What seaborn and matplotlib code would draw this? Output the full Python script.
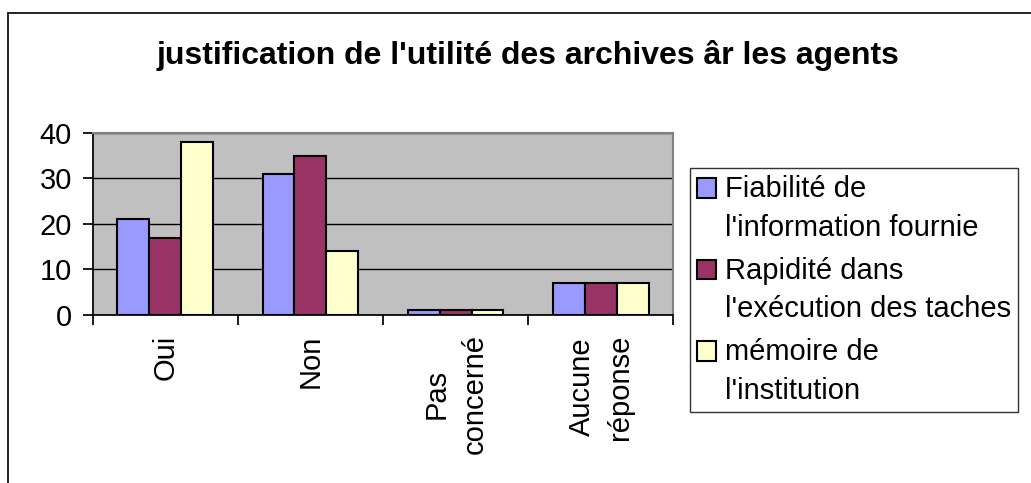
import pandas as pd
import seaborn as sns
import matplotlib.pyplot as plt
from matplotlib.lines import Line2D
from matplotlib.patches import Rectangle
from matplotlib.legend_handler import HandlerBase

categories = ["Oui", "Non", "Pas\nconcerné", "Aucune\nréponse"]
series = ["Fiabilité de\nl'information fournie",
          "Rapidité dans\nl'exécution des taches",
          "mémoire de\nl'institution"]
fiabilite = [21, 31, 1, 7]
rapidite = [17, 35, 1, 7]
memoire = [38, 14, 1, 7]
colors = ["#9999FF", "#993366", "#FFFFCC"]

df = pd.DataFrame({
    "cat": categories * 3,
    "serie": [series[0]] * 4 + [series[1]] * 4 + [series[2]] * 4,
    "val": fiabilite + rapidite + memoire,
})


# square legend key aligned with the first line of a two-line label
class TopSquare(HandlerBase):
    def create_artists(self, legend, orig_handle, xdescent, ydescent,
                       width, height, fontsize, trans):
        r = Rectangle((-xdescent, -ydescent + 15.5), width, height,
                      facecolor=orig_handle.get_facecolor(),
                      edgecolor="black", linewidth=1.5, transform=trans)
        return [r]


sns.set_theme(style="white")
plt.rcParams["font.family"] = ["Liberation Sans", "DejaVu Sans"]
plt.rcParams["text.color"] = "black"
plt.rcParams["xtick.color"] = "black"
plt.rcParams["ytick.color"] = "black"

fig = plt.figure(figsize=(10.31, 4.83), dpi=100)
ax = fig.add_axes([0.090, 0.348, 0.563, 0.377])
ax.set_facecolor("#C0C0C0")

sns.barplot(data=df, x="cat", y="val", hue="serie", palette=colors, saturation=1,
            width=0.66, edgecolor="black", linewidth=1.5, ax=ax, zorder=3)

ax.set_ylim(0, 40)
ax.set_xlim(-0.5, 3.5)
ax.set_yticks([0, 10, 20, 30, 40])
ax.grid(axis="y", color="black", linewidth=1, zorder=1)
ax.set_axisbelow(True)
for s in ["top", "right"]:
    ax.spines[s].set_color("#808080")
    ax.spines[s].set_linewidth(1.5)
ax.spines["left"].set_color("black")
ax.spines["bottom"].set_color("black")
ax.set_xlabel("")
ax.set_ylabel("")
ax.tick_params(axis="y", labelsize=21, length=7, direction="out", left=True,
               color="black", labelcolor="black", pad=8)
ax.set_xticks([-0.5, 0.5, 1.5, 2.5, 3.5], minor=False)
ax.set_xticklabels([])
ax.set_xticks([0, 1, 2, 3], minor=True)
ax.set_xticklabels(categories, minor=True, rotation=90, fontsize=21,
                   va="top", ha="center", multialignment="center",
                   linespacing=1.45, color="black")
ax.tick_params(axis="x", which="major", length=7, bottom=True, color="black")
ax.tick_params(axis="x", which="minor", length=0, pad=14)

ax.get_legend().remove()
handles = [Rectangle((0, 0), 1, 1, facecolor=c, edgecolor="black") for c in colors]
leg = fig.legend(handles, series, loc="upper left", bbox_to_anchor=(0.669, 0.652),
                 fontsize=21, frameon=True, fancybox=False, edgecolor="black",
                 handlelength=0.65, handleheight=0.65, handletextpad=0.3,
                 labelspacing=0.52, borderpad=0.25, borderaxespad=0,
                 handler_map={Rectangle: TopSquare()})
leg.get_frame().set_linewidth(1)
for t in leg.get_texts():
    t.set_linespacing(1.47)
    t.set_color("black")

fig.text(0.512, 0.886, "justification de l'utilité des archives âr les agents",
         ha="center", va="center", fontsize=23, fontweight="bold", color="black")

fig.add_artist(Line2D([0.008, 0.008], [0, 0.973], color="black", linewidth=1.2,
                      transform=fig.transFigure))
fig.add_artist(Line2D([0.008, 1], [0.973, 0.973], color="black", linewidth=1.2,
                      transform=fig.transFigure))

fig.savefig("out.png", dpi=100)
